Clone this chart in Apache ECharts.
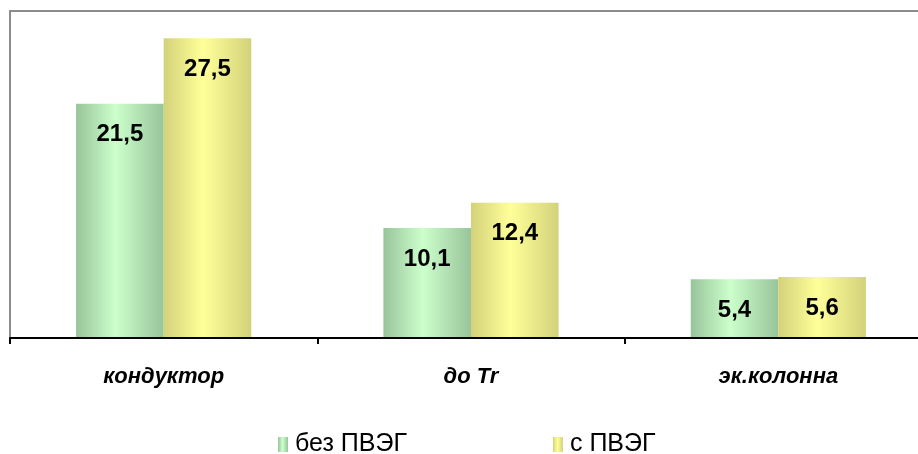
<!DOCTYPE html>
<html>
<head>
<meta charset="utf-8">
<script src="https://cdn.jsdelivr.net/npm/echarts@6/dist/echarts.min.js"></script>
<style>
  html, body { margin: 0; padding: 0; background: #fff; overflow: hidden; }
  #chart { width: 934px; height: 454px; }
</style>
</head>
<body>
<div id="chart"></div>
<script>
// Categories and the two compared series
const categories = ['кондуктор', 'до Tr', 'эк.колонна'];
const seriesNames = ['без ПВЭГ', 'с ПВЭГ'];
const withoutValues = [21.5, 10.1, 5.4];
const withValues = [27.5, 12.4, 5.6];

const chart = echarts.init(document.getElementById('chart'));

// Horizontal "cylinder" shading: darker edges, light centre
function shade(edge, mid) {
  return new echarts.graphic.LinearGradient(0, 0, 1, 0, [
    { offset: 0, color: edge },
    { offset: 0.45, color: mid },
    { offset: 1, color: edge }
  ]);
}
const greenFill = shade('#98c49a', '#ccffcc');
const yellowFill = shade('#d3d27a', '#ffff99');

const labelStyle = {
  show: true,
  position: 'insideTop',
  distance: 19,
  fontFamily: 'Liberation Sans, Arial, sans-serif',
  fontWeight: 'bold',
  fontSize: 24,
  color: '#000',
  formatter: p => String(p.value).replace('.', ',')
};

const frameLine = { show: true, lineStyle: { color: '#8c8c8c', width: 2 } };

chart.setOption({
  backgroundColor: '#fff',
  animation: false,
  grid: {
    left: 10, top: 11, right: 2, height: 327,
    show: false,
    containLabel: false
  },
  legend: {
    bottom: -8,
    left: 273,
    itemGap: 146,
    itemWidth: 10,
    itemHeight: 15,
    icon: 'rect',
    textStyle: {
      fontFamily: 'Liberation Sans, Arial, sans-serif',
      fontSize: 25,
      color: '#000',
      padding: [0, 0, 0, 2]
    },
    data: seriesNames
  },
  xAxis: [
    {
      type: 'category',
      data: categories,
      axisLine: { show: true, lineStyle: { color: '#000', width: 2 } },
      axisTick: { show: true, length: 6, lineStyle: { color: '#000', width: 2 } },
      axisLabel: {
        margin: 28,
        fontFamily: 'Liberation Sans, Arial, sans-serif',
        fontWeight: 'bold',
        fontStyle: 'italic',
        fontSize: 22,
        color: '#000'
      },
      z: 5
    },
    {
      // top edge of the plot frame
      type: 'category',
      position: 'top',
      data: categories,
      axisLine: frameLine,
      axisTick: { show: false },
      axisLabel: { show: false }
    }
  ],
  yAxis: {
    type: 'value',
    min: 0,
    max: 30,
    axisLine: frameLine,
    axisTick: { show: false },
    axisLabel: { show: false },
    splitLine: { show: false }
  },
  series: [
    {
      name: seriesNames[0],
      type: 'bar',
      data: withoutValues,
      barGap: '0%',
      barCategoryGap: '43%',
      itemStyle: { color: greenFill },
      label: labelStyle
    },
    {
      name: seriesNames[1],
      type: 'bar',
      data: withValues,
      itemStyle: { color: yellowFill },
      label: labelStyle
    }
  ]
});
</script>
</body>
</html>
